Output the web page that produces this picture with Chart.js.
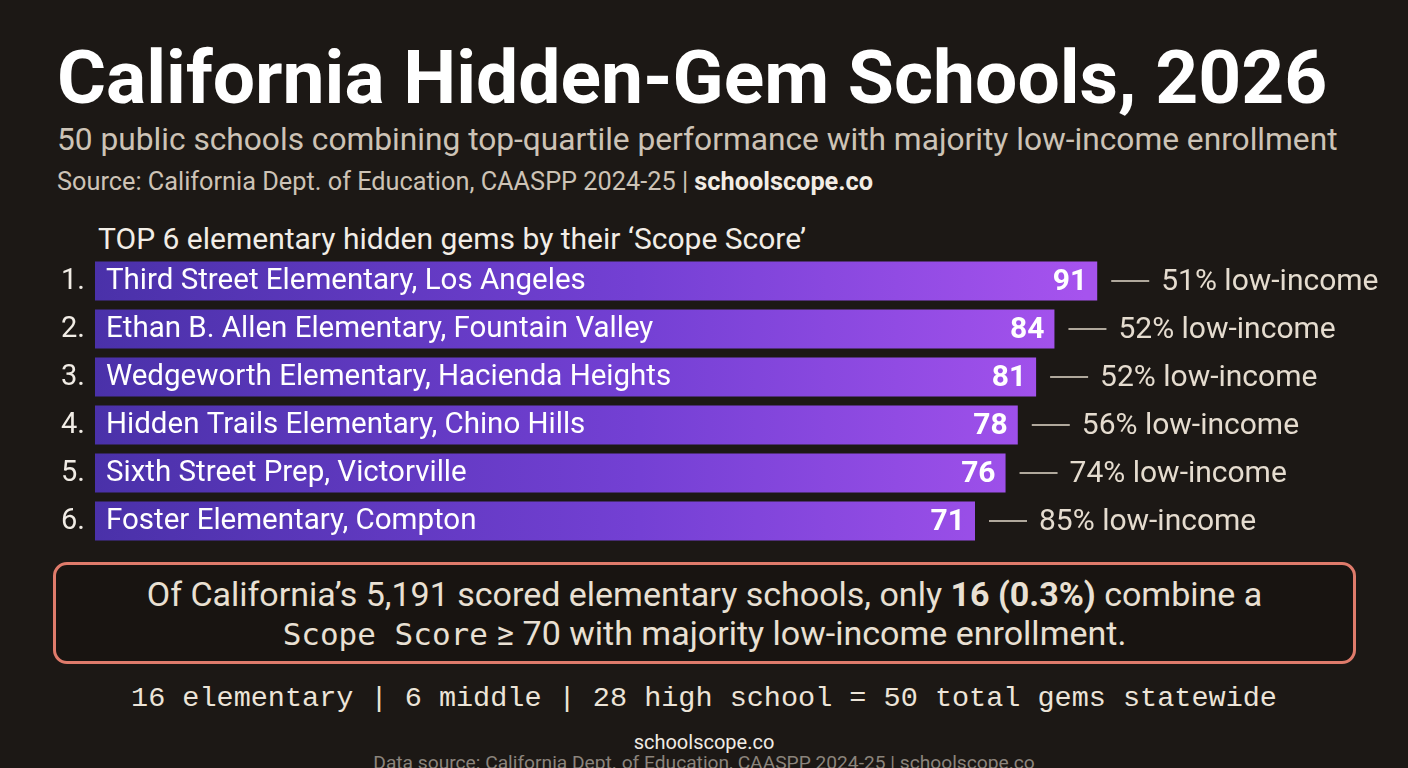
<!DOCTYPE html>
<html>
<head>
<meta charset="utf-8">
<script src="https://cdn.jsdelivr.net/npm/chart.js@4/dist/chart.umd.min.js"></script>
<style>
  html, body { margin: 0; padding: 0; }
  body {
    width: 1408px; height: 768px; overflow: hidden; position: relative;
    background: #1c1815; font-family: Roboto, "Noto Sans", sans-serif; color: #e7ded1;
  }
  .abs { position: absolute; white-space: nowrap; }
  #title { left: 57px; top: 33px; font-size: 75px; font-weight: 700; color: #ffffff; }
  #subtitle { left: 57px; top: 121px; font-size: 31.7px; color: #cdc3b6; }
  #source { left: 57px; top: 167px; font-size: 25.3px; color: #cdc3b6; }
  #source b { color: #f2ece4; }
  #heading { left: 98px; top: 221px; font-size: 30px; color: #f2ede6; }
  #wrap { position: absolute; left: 0; top: 250px; width: 1408px; height: 298px; }
  #box {
    position: absolute; left: 53px; top: 562px; width: 1297px; height: 96px;
    border: 3px solid #df7b6b; border-radius: 14px; background: #181411;
    text-align: center; font-size: 34px; line-height: 39px; color: #e9e0d3;
    box-sizing: content-box;
  }
  #box .inner { padding-top: 10px; }
  #box .mono { font-family: "DejaVu Sans Mono", monospace; font-size: 31px; }
  #counts { left: 0; width: 1408px; top: 682px; text-align: center; font-family: "Liberation Mono", "DejaVu Sans Mono", monospace; font-size: 28.5px; color: #ece4d8; }
  #brand { left: 0; width: 1408px; top: 730px; text-align: center; font-size: 20px; color: #f0ebe4; }
  #footnote { left: 0; width: 1408px; top: 751px; text-align: center; font-size: 19.2px; color: #8b847c; }
</style>
</head>
<body>
<div id="title" class="abs">California Hidden-Gem Schools, 2026</div>
<div id="subtitle" class="abs">50 public schools combining top-quartile performance with majority low-income enrollment</div>
<div id="source" class="abs">Source: California Dept. of Education, CAASPP 2024-25 | <b>schoolscope.co</b></div>
<div id="heading" class="abs">TOP 6 elementary hidden gems by their ‘Scope Score’</div>
<div id="wrap"><canvas id="chart"></canvas></div>
<div id="box"><div class="inner">Of California’s 5,191 scored elementary schools, only <b>16 (0.3%)</b> combine a<br><span class="mono">Scope Score</span> ≥ 70 with majority low-income enrollment.</div></div>
<div id="counts" class="abs">16 elementary | 6 middle | 28 high school = 50 total gems statewide</div>
<div id="brand" class="abs">schoolscope.co</div>
<div id="footnote" class="abs">Data source: California Dept. of Education, CAASPP 2024-25 | schoolscope.co</div>

<script>
const schools = [
    'Third Street Elementary, Los Angeles',
    'Ethan B. Allen Elementary, Fountain Valley',
    'Wedgeworth Elementary, Hacienda Heights',
    'Hidden Trails Elementary, Chino Hills',
    'Sixth Street Prep, Victorville',
    'Foster Elementary, Compton'
];
const scopeScores = [91, 84, 81, 78, 76, 71];
const lowIncomePct = [51, 52, 52, 56, 74, 85];

const axisMin = -73;
const axisMax = 134;

// gradient along the bars, rebuilt when the chart area is known
function barGradient(context)
{
    const chart = context.chart;
    const area = chart.chartArea;
    if (!area) return '#6d43d0';
    const g = chart.ctx.createLinearGradient(area.left, 0, area.left + 990, 0);
    g.addColorStop(0, '#4a31a9');
    g.addColorStop(0.55, '#7440d4');
    g.addColorStop(1, '#a653ee');
    return g;
}

const rowLabels = {
    id: 'rowLabels',
    afterDatasetsDraw(chart)
    {
        const ctx = chart.ctx;
        const meta = chart.getDatasetMeta(0);
        const left = chart.chartArea.left;
        ctx.save();
        ctx.textBaseline = 'middle';
        meta.data.forEach((bar, i) => {
            const y = bar.y + 1;

            // rank
            ctx.font = '29px Roboto';
            ctx.fillStyle = '#f1ece5';
            ctx.textAlign = 'right';
            ctx.fillText((i + 1) + '.', left - 10, y);

            // school name inside the bar
            ctx.fillStyle = '#ffffff';
            ctx.textAlign = 'left';
            ctx.font = '29.5px Roboto';
            ctx.fillText(schools[i], left + 11, y);

            // score at the bar end
            ctx.font = 'bold 30px Roboto';
            ctx.textAlign = 'right';
            ctx.fillText(String(scopeScores[i]), bar.x - 10, y);

            // dash + low-income share
            ctx.strokeStyle = '#e2d8ca';
            ctx.lineWidth = 1.6;
            ctx.beginPath();
            ctx.moveTo(bar.x + 14, bar.y);
            ctx.lineTo(bar.x + 52, bar.y);
            ctx.stroke();

            ctx.font = '30px Roboto';
            ctx.fillStyle = '#e5dccf';
            ctx.textAlign = 'left';
            ctx.fillText(lowIncomePct[i] + '% low-income', bar.x + 64, y);
        });
        ctx.restore();
    }
};

new Chart(document.getElementById('chart'), {
    type: 'bar',
    data: {
        labels: schools,
        datasets: [{
            data: scopeScores,
            base: axisMin,
            backgroundColor: barGradient,
            borderWidth: 0,
            barPercentage: 0.81,
            categoryPercentage: 1
        }]
    },
    options: {
        indexAxis: 'y',
        responsive: true,
        maintainAspectRatio: false,
        animation: false,
        layout: { padding: { left: 95, right: 48, top: 7, bottom: 3 } },
        plugins: {
            legend: { display: false },
            tooltip: { enabled: false }
        },
        scales: {
            x: { display: false, min: axisMin, max: axisMax },
            y: { display: false }
        }
    },
    plugins: [rowLabels]
});
</script>
</body>
</html>
